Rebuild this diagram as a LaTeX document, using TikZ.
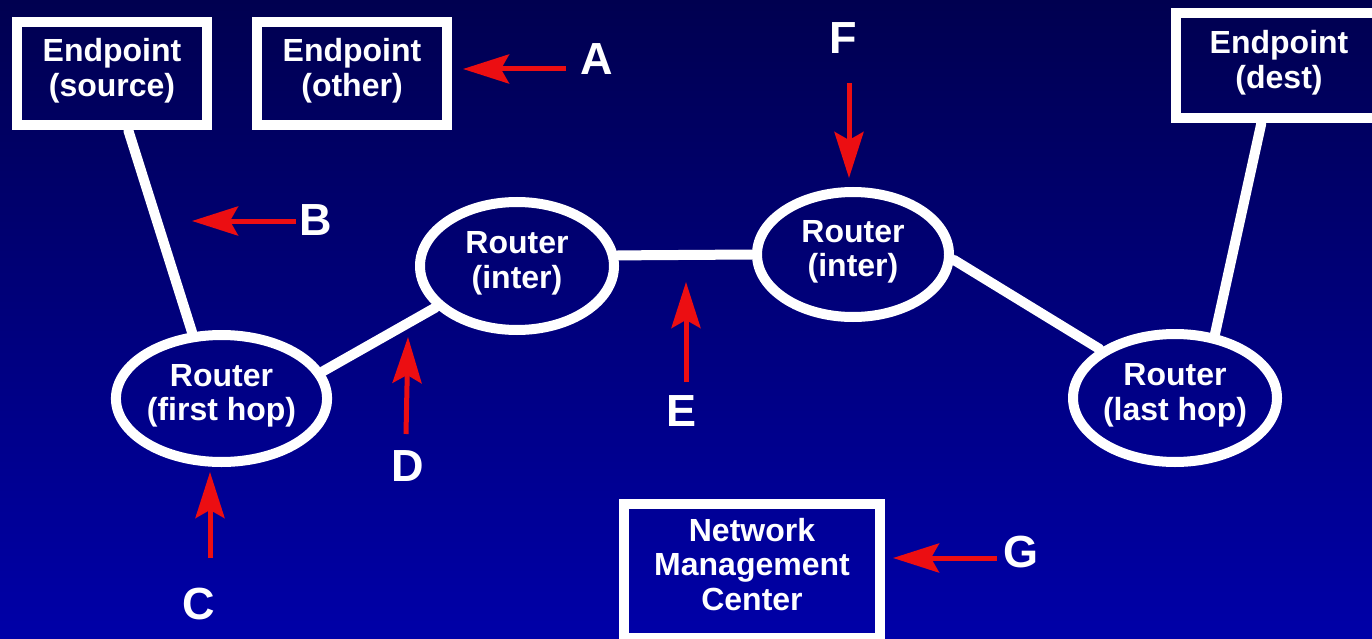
\documentclass[tikz,border=0pt]{standalone}
\usepackage{fontspec}
\setmainfont{Liberation Sans}
\usetikzlibrary{arrows.meta,shapes.geometric}
\definecolor{bgtop}{RGB}{0,0,80}
\definecolor{bgbot}{RGB}{0,0,168}
\definecolor{arrred}{RGB}{236,14,18}
\tikzset{
  txt/.style={text=white,font=\fontsize{32}{34.5}\selectfont\bfseries,align=center,inner sep=0pt,text depth=12pt},
  box/.style={txt,draw=white,line width=10.5pt,rectangle},
  router/.style={txt,draw=white,line width=10pt,ellipse},
  link/.style={draw=white,line width=10pt,line cap=round},
  pointer/.style={draw=arrred,line width=5pt,-{Stealth[length=46pt,width=29pt,inset=8pt]}},
  letter/.style={text=white,font=\fontsize{45}{50}\selectfont\bfseries,inner sep=0pt}
}
\begin{document}
\begin{tikzpicture}[x=1pt,y=-1pt]
\useasboundingbox (0,0) rectangle (1372,639);
\shade[top color=bgtop,bottom color=bgbot] (0,0) rectangle (1372,639);
\clip (0,0) rectangle (1372,639);

% endpoints
\node[box,minimum width=190pt,minimum height=103pt] (src) at (112,73.5) {Endpoint\\(source)};
\node[box,minimum width=190pt,minimum height=103pt] (oth) at (352,73.5) {Endpoint\\(other)};
\node[box,minimum width=206pt,minimum height=105pt] (dst) at (1279,65.5) {Endpoint\\(dest)};
\node[box,minimum width=256pt,minimum height=134pt,text depth=14pt] (nmc) at (752,571) {Network\\Management\\Center};

% routers
\node[router,minimum width=203pt,minimum height=127pt] (fh) at (221.5,398.5) {Router\\(first hop)};
\node[router,minimum width=194pt,minimum height=128pt] (il) at (517,266) {Router\\(inter)};
\node[router,minimum width=192pt,minimum height=125pt] (ir) at (853,254.5) {Router\\(inter)};
\node[router,minimum width=204pt,minimum height=128pt] (lh) at (1175,398) {Router\\(last hop)};

% links
\draw[link] (src.286) -- (fh.114);
\draw[link] (fh.15) -- (il.207);
\draw[link] (il.6) -- (ir.180);
\draw[link] (ir.357) -- (lh.147);
\draw[link] (dst.253.5) -- (lh.58);

% labels
\node[letter] (lA) at (597,59) {A};
\node[letter] (lB) at (316,220) {B};
\node[letter] (lC) at (199,604) {C};
\node[letter] (lD) at (408,466) {D};
\node[letter] (lE) at (681,411) {E};
\node[letter] (lF) at (843,38) {F};
\node[letter] (lG) at (1021,552) {G};

% pointer ends
\coordinate (aA1) at (566,69);  \coordinate (aA2) at (463,69);
\coordinate (aB1) at (296,221); \coordinate (aB2) at (192,221);
\coordinate (aC1) at (210,558); \coordinate (aC2) at (210,472);
\coordinate (aD1) at (406,434); \coordinate (aD2) at (408,337);
\coordinate (aE1) at (686,382); \coordinate (aE2) at (686,282);
\coordinate (aF1) at (849,83);  \coordinate (aF2) at (849,178);
\coordinate (aG1) at (997,558); \coordinate (aG2) at (893,558);

\draw[pointer] (aA1) -- (aA2);
\draw[pointer] (aB1) -- (aB2);
\draw[pointer] (aC1) -- (aC2);
\draw[pointer] (aD1) -- (aD2);
\draw[pointer] (aE1) -- (aE2);
\draw[pointer] (aF1) -- (aF2);
\draw[pointer] (aG1) -- (aG2);
\end{tikzpicture}
\end{document}
